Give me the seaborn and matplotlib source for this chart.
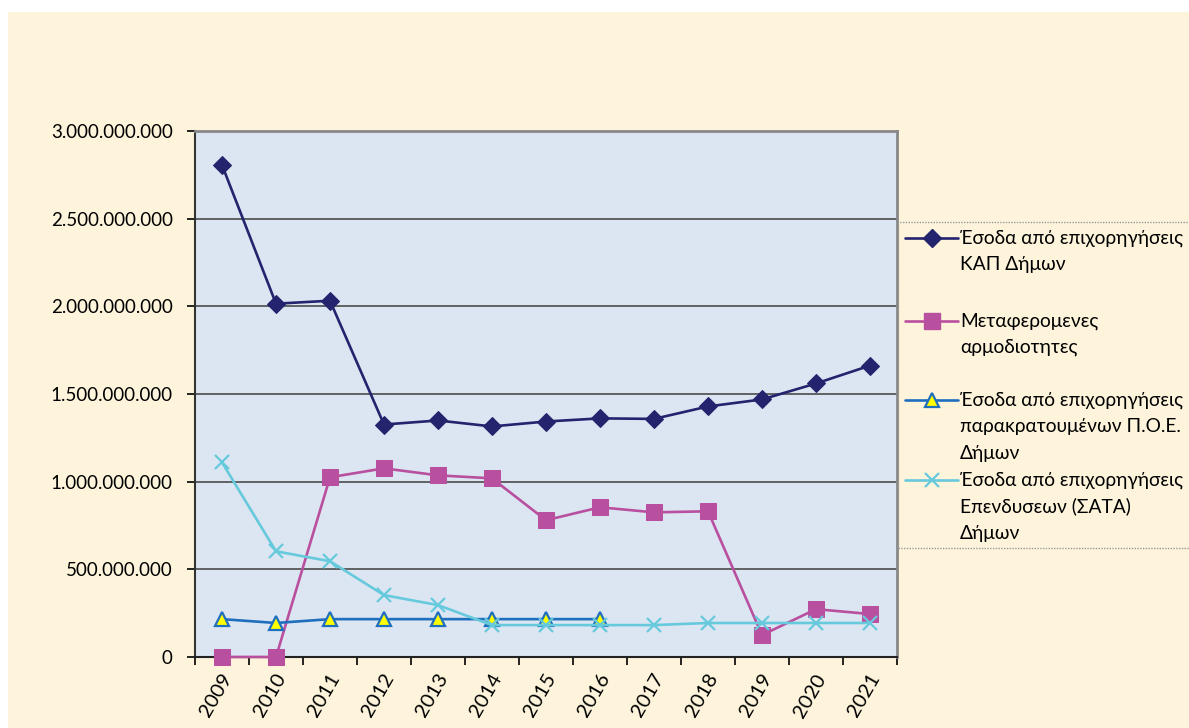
import numpy as np
import pandas as pd
import matplotlib
matplotlib.use("Agg")
import matplotlib.pyplot as plt
import matplotlib.transforms as mtransforms
from matplotlib.lines import Line2D
from matplotlib.patches import Rectangle
from matplotlib.ticker import FuncFormatter, FixedLocator, NullFormatter
import seaborn as sns

# ---- data -------------------------------------------------------------
years = ["2009", "2010", "2011", "2012", "2013", "2014", "2015",
         "2016", "2017", "2018", "2019", "2020", "2021"]
kap = [2.806e9, 2.015e9, 2.032e9, 1.326e9, 1.349e9, 1.315e9, 1.343e9,
       1.361e9, 1.358e9, 1.429e9, 1.469e9, 1.560e9, 1.662e9]
metaf = [0.0, 0.0, 1.025e9, 1.076e9, 1.036e9, 1.019e9, 0.780e9,
         0.854e9, 0.825e9, 0.831e9, 0.125e9, 0.273e9, 0.245e9]
poe = [0.216e9, 0.194e9, 0.216e9, 0.216e9, 0.216e9, 0.216e9, 0.216e9,
       0.216e9, np.nan, np.nan, np.nan, np.nan, np.nan]
sata = [1.110e9, 0.603e9, 0.546e9, 0.353e9, 0.296e9, 0.182e9, 0.182e9,
        0.182e9, 0.182e9, 0.194e9, 0.194e9, 0.194e9, 0.194e9]
labels = [
    "Έσοδα από επιχορηγήσεις\nΚΑΠ Δήμων",
    "Μεταφερομενες\nαρμοδιοτητες",
    "Έσοδα από επιχορηγήσεις\nπαρακρατουμένων Π.Ο.Ε.\nΔήμων",
    "Έσοδα από επιχορηγήσεις\nΕπενδυσεων (ΣΑΤΑ)\nΔήμων",
]
yticks = [0, 500e6, 1000e6, 1500e6, 2000e6, 2500e6, 3000e6]

# ---- style ------------------------------------------------------------
sns.set_theme(style="white")
plt.rcParams["font.family"] = ["Lato", "DejaVu Sans"]

W, H = 1189, 728
fig = plt.figure(figsize=(W / 100, H / 100), dpi=100, facecolor="white")
parch = "#fdf4db"
fig.patches.append(Rectangle((8 / W, 0), 1, 1 - 12 / H, transform=fig.transFigure,
                             facecolor=parch, edgecolor="none", zorder=-10))

ax = fig.add_axes([195 / W, 1 - 657 / H, (897 - 195) / W, (657 - 131) / H])
ax.set_facecolor("#dce6f2")

df = pd.DataFrame({"x": np.arange(len(years)), "kap": kap, "metaf": metaf,
                   "poe": poe, "sata": sata})

line_colors = ["#23236e", "#b94f9f", "#1f6fbf", "#66c9dc"]
marker_styles = [
    dict(marker="D", markersize=9, markerfacecolor="#23236e",
         markeredgecolor="#23236e"),
    dict(marker="s", markersize=11, markerfacecolor="#b94f9f",
         markeredgecolor="#b94f9f"),
    dict(marker="^", markersize=10, markerfacecolor="#ffff00",
         markeredgecolor="#1f6fbf", markeredgewidth=1.6),
    dict(marker="x", markersize=10, markeredgecolor="#66c9dc",
         markeredgewidth=1.6),
]
cols = ["kap", "metaf", "poe", "sata"]
for i, (col, lc, ms) in enumerate(zip(cols, line_colors, marker_styles)):
    sns.lineplot(data=df, x="x", y=col, ax=ax, color=lc, linewidth=1.9,
                 legend=False, zorder=3 + i, clip_on=False, **ms)

ax.set_xlim(-0.5, len(years) - 0.5)
ax.set_ylim(0, 3e9)
ax.set_xlabel("")
ax.set_ylabel("")

ax.yaxis.set_major_locator(FixedLocator(yticks))
ax.yaxis.set_major_formatter(FuncFormatter(lambda v, p: f"{int(v):,}".replace(",", ".")))
ax.grid(axis="y", color="#4a4a4a", linewidth=1.2)
ax.set_axisbelow(True)

ax.xaxis.set_major_locator(FixedLocator(np.arange(-0.5, len(years), 1.0)))
ax.xaxis.set_major_formatter(NullFormatter())
ax.set_xticks(np.arange(len(years)), years, minor=True)
ax.tick_params(axis="x", which="major", direction="out", length=6, width=1.2,
               color="black", bottom=True)
ax.tick_params(axis="x", which="minor", length=0, pad=13, labelsize=14.5,
               labelrotation=60, labelcolor="black")
shift = mtransforms.ScaledTranslation(6 / 100, 0, fig.dpi_scale_trans)
for t in ax.get_xticklabels(minor=True):
    t.set_ha("right")
    t.set_va("center")
    t.set_rotation_mode("anchor")
    t.set_transform(t.get_transform() + shift)
ax.tick_params(axis="y", direction="out", length=6, width=1.2, color="black",
               left=True, pad=10, labelsize=13.5, labelcolor="black")

for s in ["top", "right"]:
    ax.spines[s].set_color("#888888")
    ax.spines[s].set_linewidth(2)
ax.spines["left"].set_color("#333333")
ax.spines["left"].set_linewidth(1.5)
ax.spines["bottom"].set_color("#222222")
ax.spines["bottom"].set_linewidth(1.5)

# ---- legend (drawn in figure pixels) ----------------------------------
def fx(px):
    return px / W

def fy(py):
    return 1 - py / H

fig.patches.append(Rectangle((fx(898), fy(548)), fx(400), (548 - 222) / H,
                             transform=fig.transFigure, facecolor="none",
                             edgecolor="#999999", linestyle=(0, (1, 1)),
                             linewidth=1.0, zorder=5))
entry_y = [238, 321, 400, 480]
line_gap = 26.5
for lc, ms, lab, yy in zip(line_colors, marker_styles, labels, entry_y):
    fig.add_artist(Line2D([fx(905), fx(958)], [fy(yy), fy(yy)],
                          transform=fig.transFigure, linewidth=1.9, color=lc))
    fig.add_artist(Line2D([fx(931.5)], [fy(yy)], transform=fig.transFigure,
                          linestyle="none", color=lc, **ms))
    for j, line in enumerate(lab.split("\n")):
        fig.text(fx(960), fy(yy + j * line_gap), line, ha="left", va="center",
                 fontsize=13.8, color="black")

fig.savefig("out.png", dpi=100, facecolor=fig.get_facecolor())
